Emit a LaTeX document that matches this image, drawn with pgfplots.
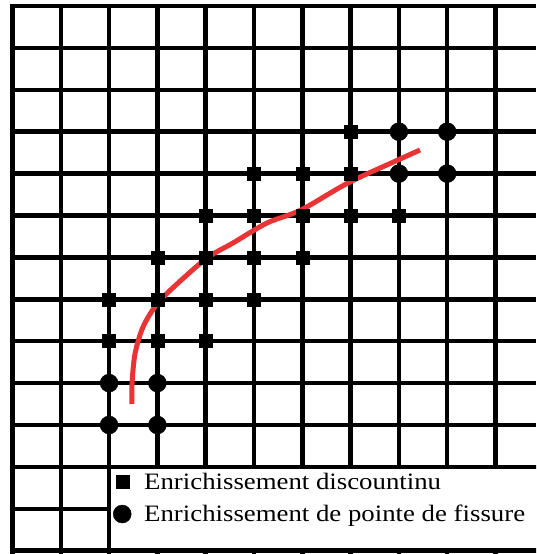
\documentclass[border=0pt]{standalone}
\usepackage{fontspec}
\setmainfont{Liberation Serif}
\usepackage{graphicx}
\usepackage{pgfplots}
\pgfplotsset{compat=1.18}
\definecolor{crack}{RGB}{232,52,52}
\begin{document}
\begin{tikzpicture}
\path[use as bounding box] (0,0) rectangle (536pt,554pt);
\begin{axis}[
  at={(10.25pt,0pt)}, anchor=south west,
  scale only axis, width=525.75pt, height=550.25pt,
  xmin=-0.0466, xmax=10.839,
  ymin=-0.0537, ymax=13.079, y dir=reverse,
  axis line style={draw=none},
  xtick={0,...,10}, ytick={0,...,13},
  xticklabels={}, yticklabels={},
  major tick length=0pt,
  grid=major, grid style={black, line width=4.5pt, solid},
  legend style={at={(axis cs:2.04,11.05)}, anchor=north west, draw=none, fill=none,
    font=\fontsize{23.5}{28}\selectfont, cells={anchor=west}, row sep=10pt, inner sep=2pt},
]
\draw[black, line width=4.5pt, fill=white] (axis cs:2,11) rectangle (axis cs:11.5,13);
\addplot[only marks, mark=square*, mark size=6.5pt, black] coordinates {
 (7,3)
 (5,4) (6,4) (7,4)
 (4,5) (5,5) (6,5) (7,5) (8,5)
 (3,6) (4,6) (5,6) (6,6)
 (2,7) (3,7) (4,7) (5,7)
 (2,8) (3,8) (4,8)
};
\addlegendentry{\hspace{11pt}\scalebox{1.14}[1]{Enrichissement discountinu}}
\addplot[only marks, mark=*, mark size=9pt, black] coordinates {
 (8,3) (9,3) (8,4) (9,4)
 (2,9) (3,9) (2,10) (3,10)
};
\addlegendentry{\hspace{11pt}\scalebox{1.14}[1]{Enrichissement de pointe de fissure}}
\addplot[crack, line width=5pt, smooth, tension=0.5, forget plot] coordinates {
 (2.474,9.499) (2.474,9.021) (2.536,8.305) (2.702,7.661) (2.992,7.112)
 (3.406,6.635) (4.027,6.014) (4.565,5.656) (5.269,5.179) (5.973,4.869)
 (6.946,4.224) (7.981,3.675) (8.437,3.437)
};
\end{axis}
\end{tikzpicture}
\end{document}
